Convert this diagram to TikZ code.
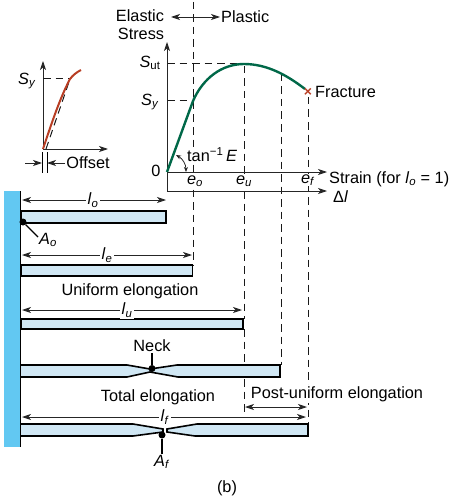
\documentclass[tikz,border=0pt]{standalone}
\usepackage{fontspec}
\setmainfont{Liberation Sans}
\usetikzlibrary{arrows.meta}
\definecolor{wallcolour}{RGB}{98,200,242}
\definecolor{barcolour}{RGB}{208,231,244}
\definecolor{curvecolour}{RGB}{0,104,72}
\definecolor{redcolour}{RGB}{184,62,36}
\newcommand{\sym}[2]{\textit{#1}\textsubscript{\textit{#2}}}
\tikzset{
  lbl/.style={font=\fontsize{16.3}{19}\selectfont,inner sep=1pt},
  gaplbl/.style={lbl,fill=white,inner sep=2pt},
  dim/.style={draw=black!85,line width=0.9pt,{Stealth[length=9pt,width=6pt,inset=2.5pt]}-{Stealth[length=9pt,width=6pt,inset=2.5pt]}},
  one/.style={draw=black!85,line width=0.9pt,-{Stealth[length=9pt,width=6pt,inset=2.5pt]}},
  guide/.style={draw=black!90,line width=1pt,dash pattern=on 7.5pt off 5pt},
  bar/.style={draw=black,fill=barcolour,line width=1.6pt},
  dot/.style={circle,fill=black,inner sep=0pt,minimum size=7pt},
}

\begin{document}
\begin{tikzpicture}[x=1pt,y=-1pt]
\useasboundingbox (0,0) rectangle (454,500);

% dashed guides
\coordinate (eotop) at (193,2);
\coordinate (eobot) at (193,265);
\draw[guide] (eotop) -- (eobot);
\draw[guide] (167,64) -- (244,64);
\draw[guide] (167,101) -- (193,101);
\draw[guide] (244,66) -- (244,319);
\draw[guide] (244,329) -- (244,413);
\draw[guide] (281,74) -- (281,365);
\draw[guide] (308,97) -- (308,424);

% labels that hide the guides
\node[gaplbl,inner ysep=0pt] (eo) at (195,181) {\sym{e}{o}};
\node[gaplbl,inner ysep=0pt] (eu) at (244,181) {\sym{e}{u}};
\node[gaplbl,inner ysep=0pt] (ef) at (308,180) {\sym{e}{f}};
\node[gaplbl,inner sep=0pt,anchor=west] (tanE) at (187,155) {tan\textsuperscript{−1}\,\textit{E}};

% stress-strain axes
\coordinate (origin) at (167,172);
\coordinate (low) at (167,191);
\draw[one] (low) -- (167,42);
\draw[one] (origin) -- (327,172);
\draw[one] (low) -- (327,191);

\draw[curvecolour,line width=2.4pt] (origin) -- (193,101)
  .. controls (203,78) and (222,64) .. (244,64)
  .. controls (268,64) and (288,76) .. (305,89);
\node[redcolour,lbl,font=\fontsize{14}{14}\selectfont\bfseries] (fracmark) at (308,92) {×};
\node[lbl,anchor=west] (fracture) at (314,92) {Fracture};

\node[lbl] (elastic) at (140,16) {Elastic};
\node[lbl] (stress) at (141,34) {Stress};
\node[lbl,anchor=west] (plastic) at (220,17) {Plastic};
\coordinate (elasticend) at (171,17);
\draw[dim] (elasticend) -- (plastic.west);

\node[lbl] (sut) at (150,63) {\textit{S}\textsubscript{ut}};
\node[lbl] (sy) at (150,102) {\sym{S}{y}};
\node[lbl] (zero) at (156,171) {0};
\coordinate (arca) at (176,155);
\coordinate (arcb) at (186,172);
\draw[draw=black!85,line width=0.8pt,{Stealth[length=5pt,width=4pt,inset=1.5pt]}-{Stealth[length=5pt,width=4pt,inset=1.5pt]}] (arca) to[bend left=30] (arcb);

\node[lbl,anchor=west] (strain) at (328,179) {Strain (for \sym{l}{o} = 1)};
\node[lbl,anchor=west] (deltal) at (332,197) {Δ\textit{l}};

% inset
\coordinate (iorigin) at (43,149);
\draw[one] (iorigin) -- (43,61);
\draw[one] (iorigin) -- (108,149);
\draw[guide] (43,79) -- (70,79);
\draw[guide] (46,149) -- (70,79);
\draw[redcolour,line width=2pt] (iorigin) .. controls (52,122) and (60,98) .. (70,79)
  .. controls (73,75) and (77,72) .. (81,70);
\node[lbl] (isy) at (27,81) {\sym{S}{y}};
\draw[line width=0.8pt] (42,152) -- (42,173);
\draw[line width=0.8pt] (47,152) -- (47,173);
\node[lbl] (offset) at (88,163) {Offset};
\coordinate (offl) at (25,163);
\coordinate (offr) at (42,163);
\coordinate (offs) at (47,163);
\draw[one] (offl) -- (offr);
\draw[one] (offset.west) -- (offs);

% wall
\fill[wallcolour] (4,191) rectangle (20,447);
\draw[line width=1.6pt] (20.5,191) -- (20.5,447);

% bars
\draw[bar] (21,211) rectangle (166,223);
\draw[bar] (21,265) rectangle (192.5,276);
\draw[bar] (21,319) rectangle (243,329);

\fill[barcolour] (21,365) -- (127,365) -- (150,369) -- (177,365) -- (280,365)
  -- (280,377) -- (178,377) -- (150,372) -- (127,377) -- (21,377) -- cycle;
\draw[line width=1.6pt] (21,365) -- (127,365) -- (150,369) -- (177,365) -- (280,365)
  -- (280,377) -- (178,377) -- (150,372) -- (127,377) -- (21,377);

\fill[barcolour] (21,424) -- (133,424) -- (163,429) -- (163,432) -- (133,436) -- (21,436) -- cycle;
\fill[barcolour] (167,429) -- (197,424) -- (308,424) -- (308,436) -- (195,436) -- (167,432) -- cycle;
\draw[line width=1.6pt] (21,424) -- (133,424) -- (163,429) -- (163,432) -- (133,436) -- (21,436);
\draw[line width=1.6pt] (167,429) -- (167,432) -- (195,436) -- (308,436) -- (308,424) -- (197,424) -- cycle;

% lengths
\foreach \name/\yy/\xx/\lx/\sub in {lo/200/166/93/o,le/255/192/107/e,lu/310/242/127/u,lf/417/306/165/f} {
  \coordinate (\name a) at (22,\yy);
  \coordinate (\name b) at (\xx,\yy);
  \draw[dim] (\name a) -- (\name b);
  \node[gaplbl] (\name) at (\lx,\yy) {\sym{l}{\sub}};
}

\node[lbl] (uniform) at (130,291) {Uniform elongation};
\node[lbl] (total) at (158,397) {Total elongation};
\node[gaplbl,inner xsep=0pt,inner ysep=1pt] (post) at (337,394) {Post-uniform elongation};
\coordinate (posta) at (245,407);
\coordinate (postb) at (307,407);
\draw[dim] (posta) -- (postb);

% section points
\node[dot] (aodot) at (23,222) {};
\node[lbl] (ao) at (48,240) {\sym{A}{o}};
\draw[line width=1.3pt] (aodot) -- (38,237);
\node[dot] (neckdot) at (152,368.5) {};
\node[lbl] (neck) at (152,346) {Neck};
\draw[line width=1.3pt] (neckdot) -- (neck);
\node[dot] (afdot) at (162,435) {};
\node[lbl] (af) at (162,462) {\sym{A}{f}};
\draw[line width=1.3pt] (afdot) -- (af);

\node[lbl] (b) at (227,488) {(b)};

\end{tikzpicture}
\end{document}
